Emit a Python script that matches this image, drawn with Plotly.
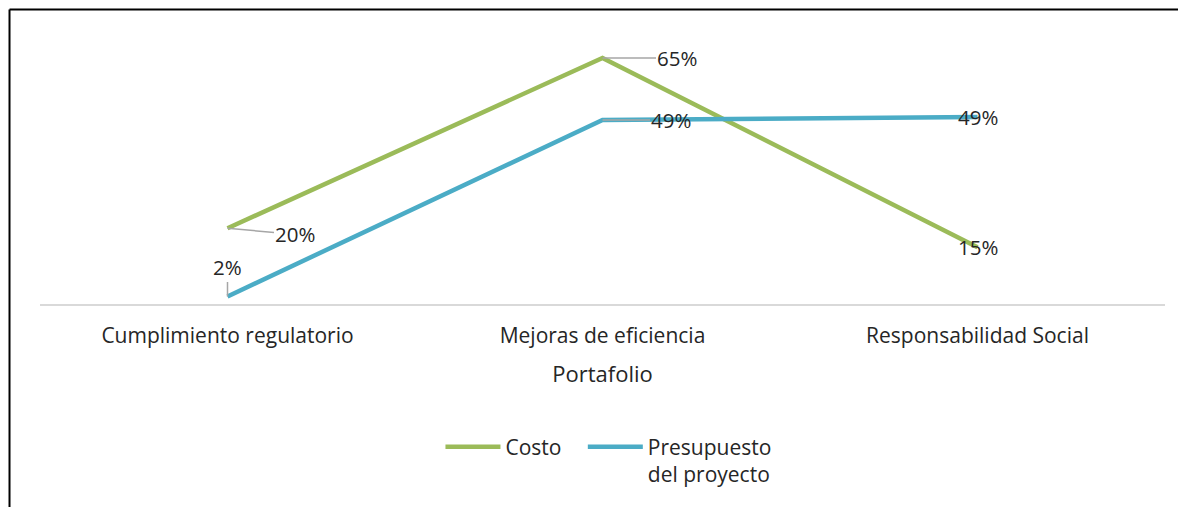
import plotly.graph_objects as go

categories = ["Cumplimiento regulatorio", "Mejoras de eficiencia", "Responsabilidad Social"]
costo = [0.20, 0.65, 0.15]
presupuesto = [0.02, 0.486, 0.494]
series_names = ["Costo", "Presupuesto<br>del proyecto"]
colors = ["#9BBB59", "#4BACC6"]

# label offsets (pixels) relative to each point; None = label centered on point, no leader
costo_offsets = [(67, 6), (74, 0), None]
presu_offsets = [(0, -29), (68, 0), None]
# extra legend spacing after each entry
name_pad = ["\u00a0\u00a0\u00a0", ""]

fig = go.Figure()
for name, vals, col, pad in zip(series_names, [costo, presupuesto], colors, name_pad):
    fig.add_trace(go.Scatter(x=categories, y=vals, mode="lines", name=name + pad,
                             line=dict(color=col, width=4.5)))

FONT = "Open Sans"
TXT = "#262626"
annotations = []
for vals, offs in [(costo, costo_offsets), (presupuesto, presu_offsets)]:
    for c, v, o in zip(categories, vals, offs):
        txt = f"{round(v*100):d}%"
        if o is None:
            annotations.append(dict(x=c, y=v, text=txt, showarrow=False,
                                    font=dict(family=FONT, size=20.5, color=TXT)))
        else:
            annotations.append(dict(x=c, y=v, text=txt, showarrow=True, ax=o[0], ay=o[1],
                                    arrowhead=0, arrowwidth=1.5, arrowcolor="#A6A6A6",
                                    standoff=0, borderpad=0,
                                    font=dict(family=FONT, size=20.5, color=TXT)))

fig.update_layout(
    width=1178, height=499,
    margin=dict(l=32, r=21, t=31, b=203),
    paper_bgcolor="white", plot_bgcolor="white",
    font=dict(family=FONT, size=20, color=TXT),
    showlegend=True,
    legend=dict(orientation="h", x=0.5053, xanchor="center", y=-0.463, yanchor="top",
                font=dict(family=FONT, size=21, color=TXT), valign="top",
                itemwidth=55, traceorder="normal"),
    xaxis=dict(type="category", range=[-0.5, 2.5], showgrid=False, zeroline=False,
               showline=True, linecolor="#D9D9D9", linewidth=2, ticks="",
               ticklabelstandoff=12,
               tickfont=dict(family=FONT, size=21, color=TXT),
               title=dict(text="Portafolio", standoff=18,
                          font=dict(family=FONT, size=22, color=TXT))),
    yaxis=dict(range=[0, 0.7], visible=False, showgrid=False, zeroline=False),
    annotations=annotations,
    shapes=[
        dict(type="line", xref="paper", yref="paper", x0=-0.0271, x1=1.05, y0=1.111, y1=1.111,
             line=dict(color="black", width=2)),
        dict(type="line", xref="paper", yref="paper", x0=-0.0271, x1=-0.0271, y0=1.111, y1=-0.8,
             line=dict(color="black", width=2)),
    ],
)

fig.write_html("out.html", config={"displayModeBar": False})
